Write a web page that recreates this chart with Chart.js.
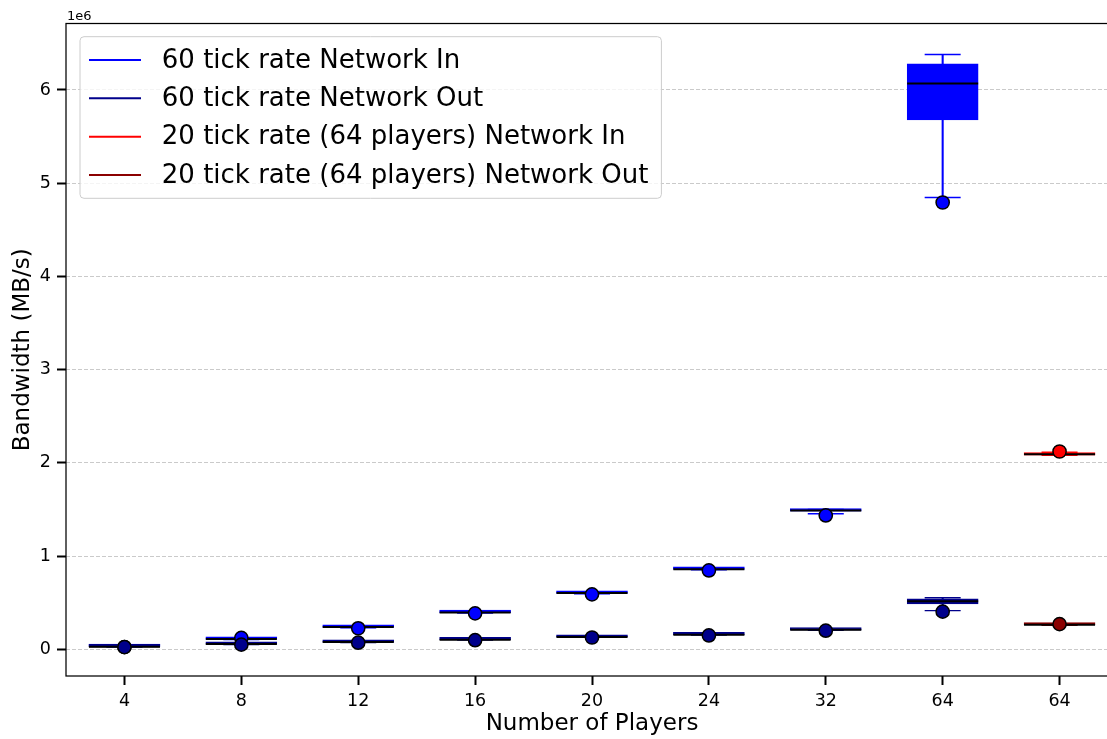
<!DOCTYPE html>
<html>
<head>
<meta charset="utf-8">
<script src="https://cdn.jsdelivr.net/npm/chart.js@4.4.1/dist/chart.umd.min.js"></script>
<style>
  html, body { margin: 0; padding: 0; background: #fff; overflow: hidden; }
  /* the plot frame runs slightly past the visible edge on the right */
  #wrap { width: 1107px; height: 739px; overflow: hidden; position: relative; }
  #chart { position: absolute; left: 0; top: 0; }
</style>
</head>
<body>
<div id="wrap"><canvas id="chart" width="1125" height="739"></canvas></div>
<script>
// Player counts on the x axis (the last column is the 20 tick rate run)
const playerCounts = ['4', '8', '12', '16', '20', '24', '32', '64', '64'];
const yTickValues = [0, 1e6, 2e6, 3e6, 4e6, 5e6, 6e6];

// Box summaries per player count: [lower whisker, Q1, median, Q3, upper whisker]
// null where that configuration was not run
const net60In = [
  [27000, 30000, 32000, 34000, 37000],
  [104000, 107000, 110000, 113000, 116000],
  [231000, 235000, 239000, 242000, 245000],
  [389000, 393000, 396000, 399000, 402000],
  [596000, 600000, 603000, 606000, 610000],
  [853000, 857000, 860000, 863000, 866000],
  [1455000, 1482000, 1489000, 1494000, 1500000],
  [4846000, 5680000, 6070000, 6280000, 6380000],
  null
];
const net60InFliers = [[25000], [123000], [226000], [386000], [590000], [846000], [1436000], [4793000], []];

const net60Out = [
  [26000, 27000, 29000, 31000, 33000],
  [51000, 54000, 57000, 60000, 63000],
  [73000, 75000, 78000, 80000, 83000],
  [100000, 102000, 104000, 106000, 108000],
  [128000, 130000, 132000, 134000, 136000],
  [152000, 155000, 157000, 159000, 162000],
  [204000, 206000, 209000, 211000, 214000],
  [415000, 486000, 515000, 543000, 554000],
  null
];
const net60OutFliers = [[24000], [50000], [71000], [98000], [127000], [149000], [200000], [404000], []];

const net20In = [null, null, null, null, null, null, null, null,
  [2080000, 2084000, 2093000, 2104000, 2114000]];
const net20InFliers = [[], [], [], [], [], [], [], [], [2122000]];

const net20Out = [null, null, null, null, null, null, null, null,
  [258000, 261000, 264000, 266000, 267000]];
const net20OutFliers = [[], [], [], [], [], [], [], [], [270000]];

const seriesLabels = [
  '60 tick rate Network In',
  '60 tick rate Network Out',
  '20 tick rate (64 players) Network In',
  '20 tick rate (64 players) Network Out'
];
const seriesColors = ['#0000ff', '#00008b', '#ff0000', '#8b0000'];
const seriesStats = [net60In, net60Out, net20In, net20Out];
const seriesFliers = [net60InFliers, net60OutFliers, net20InFliers, net20OutFliers];

Chart.defaults.font.family = '"DejaVu Sans", sans-serif';
Chart.defaults.color = '#000';

// Each box plot is assembled from: whisker stem, box, caps, median line, outlier markers.
function boxPlotDatasets(idx) {
  const stats = seriesStats[idx];
  const color = seriesColors[idx];
  const base = (seriesStats.length - idx) * 10; // later series are painted on top
  const rows = [];
  stats.forEach((st, i) => { if (st) rows.push({ x: i + 1, st }); });
  const fliers = [];
  seriesFliers[idx].forEach((vals, i) => vals.forEach(v => fliers.push({ x: i + 1, y: v })));
  return [
    {
      type: 'bar', label: seriesLabels[idx] + ' whiskers',
      data: rows.map(r => ({ x: r.x, y: [r.st[0], r.st[4]] })),
      backgroundColor: color, borderWidth: 0, barThickness: 1.4, grouped: false, order: base + 5
    },
    {
      type: 'bar', label: seriesLabels[idx],
      data: rows.map(r => ({ x: r.x, y: [r.st[1], r.st[3]] })),
      backgroundColor: color, borderColor: color, borderWidth: 1, borderSkipped: false,
      barThickness: 71, minBarLength: 2.5, grouped: false, order: base + 4
    },
    {
      type: 'scatter', label: seriesLabels[idx] + ' caps',
      data: rows.flatMap(r => [{ x: r.x, y: r.st[0] }, { x: r.x, y: r.st[4] }]),
      pointStyle: 'line', pointRadius: 18, pointBorderColor: color, pointBackgroundColor: color,
      pointBorderWidth: 1.4, showLine: false, order: base + 3
    },
    {
      type: 'scatter', label: seriesLabels[idx] + ' median',
      data: rows.map(r => ({ x: r.x, y: r.st[2] })),
      pointStyle: 'line', pointRadius: 35.5, pointBorderColor: '#000', pointBackgroundColor: '#000',
      pointBorderWidth: 2, showLine: false, order: base + 2
    },
    {
      type: 'scatter', label: seriesLabels[idx] + ' outliers',
      data: fliers,
      pointStyle: 'circle', pointRadius: 6.6, pointBackgroundColor: color, pointBorderColor: '#000',
      pointBorderWidth: 1.5, showLine: false, order: base + 1
    }
  ];
}

const datasets = [];
seriesStats.forEach((_, i) => datasets.push(...boxPlotDatasets(i)));

// Full axes frame plus the "1e6" scale marker above the y axis
const axesFrame = {
  id: 'axesFrame',
  afterDatasetsDraw(chart) {
    const { ctx, chartArea: a } = chart;
    ctx.save();
    ctx.strokeStyle = '#000';
    ctx.lineWidth = 1.25;
    ctx.strokeRect(a.left, a.top, a.right - a.left, a.bottom - a.top);
    ctx.font = '13px "DejaVu Sans"';
    ctx.fillStyle = '#000';
    ctx.textAlign = 'left';
    ctx.textBaseline = 'alphabetic';
    ctx.fillText('1e6', a.left + 1, a.top - 3.5);
    ctx.restore();
  }
};

// Framed legend inside the plot, with line handles
const lineLegend = {
  id: 'lineLegend',
  afterDraw(chart, args, opts) {
    const { ctx, chartArea: a } = chart;
    const fs = opts.fontSize;
    const pad = opts.pad, handleLen = 2 * fs, gap = 0.8 * fs;
    const rowH = opts.rowHeight, rowGap = opts.rowGap;
    ctx.save();
    ctx.font = fs + 'px "DejaVu Sans"';
    const textW = Math.max(...seriesLabels.map(t => ctx.measureText(t).width));
    const left = a.left + opts.offsetX, top = a.top + opts.offsetY;
    const w = pad * 2 + handleLen + gap + textW + 4;
    const h = pad * 2 + seriesLabels.length * rowH + (seriesLabels.length - 1) * rowGap;
    ctx.beginPath();
    ctx.roundRect(left, top, w, h, 4);
    ctx.fillStyle = 'rgba(255,255,255,0.8)';
    ctx.fill();
    ctx.strokeStyle = '#cccccc';
    ctx.lineWidth = 1;
    ctx.stroke();
    seriesLabels.forEach((label, i) => {
      const cy = top + pad + rowH / 2 + i * (rowH + rowGap);
      ctx.beginPath();
      ctx.moveTo(left + pad, cy);
      ctx.lineTo(left + pad + handleLen, cy);
      ctx.strokeStyle = seriesColors[i];
      ctx.lineWidth = 2;
      ctx.stroke();
      ctx.fillStyle = '#000';
      ctx.textAlign = 'left';
      ctx.textBaseline = 'middle';
      ctx.fillText(label, left + pad + handleLen + gap, cy + 1);
    });
    ctx.restore();
  }
};

new Chart(document.getElementById('chart'), {
  type: 'bar',
  data: { datasets },
  options: {
    responsive: false,
    devicePixelRatio: 1,
    animation: false,
    events: [],
    layout: { autoPadding: false, padding: { top: 23.5, left: 0, right: 7, bottom: 0 } },
    plugins: {
      legend: { display: false },
      tooltip: { enabled: false },
      lineLegend: { fontSize: 26, pad: 9, rowHeight: 28.7, rowGap: 9.6, offsetX: 14, offsetY: 13.2 }
    },
    scales: {
      x: {
        type: 'linear',
        min: 0.5,
        max: 9.5,
        offset: false,
        afterBuildTicks: s => { s.ticks = playerCounts.map((_, i) => ({ value: i + 1 })); },
        afterFit: s => { s.height = 63; s.paddingLeft = 0; s.paddingRight = 0; },
        ticks: {
          callback: v => playerCounts[v - 1],
          autoSkip: false, maxRotation: 0,
          font: { size: 17.5 }, color: '#000', padding: 6
        },
        grid: {
          offset: false, drawOnChartArea: false, drawTicks: true,
          tickLength: 9, tickWidth: 2, tickColor: '#000'
        },
        border: { display: false },
        title: {
          display: true, text: 'Number of Players', color: '#000',
          font: { size: 23 }, padding: { top: 0, bottom: 1 }
        }
      },
      y: {
        type: 'linear',
        min: -286000,
        max: 6713000,
        afterBuildTicks: s => { s.ticks = yTickValues.map(v => ({ value: v })); },
        afterFit: s => { s.width = 66; s.paddingTop = 0; s.paddingBottom = 0; },
        ticks: {
          callback: v => String(v / 1e6),
          font: { size: 17.5 }, color: '#000', padding: 6
        },
        grid: {
          color: '#c4c4c4', lineWidth: 0.9, drawTicks: true,
          tickLength: 9, tickWidth: 2, tickColor: '#000', tickBorderDash: []
        },
        border: { display: false, dash: [4, 2] },
        title: {
          display: true, text: 'Bandwidth (MB/s)', color: '#000',
          font: { size: 23 }, padding: { top: 9, bottom: 0 }
        }
      }
    }
  },
  plugins: [axesFrame, lineLegend]
});
</script>
</body>
</html>
